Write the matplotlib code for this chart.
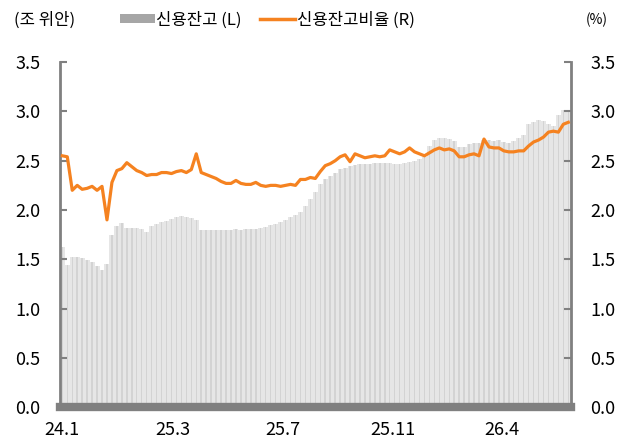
import numpy as np
import matplotlib
matplotlib.use('Agg')
import matplotlib.pyplot as plt
from matplotlib.patches import Patch
from matplotlib.lines import Line2D

plt.rcParams['font.family'] = ['Noto Sans CJK KR', 'DejaVu Sans']

# credit balance (trillion yuan), left axis
balance = [1.62, 1.44, 1.52, 1.52, 1.51, 1.49, 1.47, 1.43, 1.39, 1.45,
           1.75, 1.84, 1.87, 1.82, 1.82, 1.82, 1.81, 1.78, 1.84, 1.86,
           1.88, 1.89, 1.91, 1.93, 1.94, 1.93, 1.92, 1.90, 1.80, 1.80,
           1.80, 1.80, 1.80, 1.80, 1.80, 1.81, 1.80, 1.81, 1.81, 1.81,
           1.82, 1.83, 1.85, 1.86, 1.88, 1.90, 1.93, 1.95, 1.98, 2.04,
           2.11, 2.18, 2.26, 2.31, 2.35, 2.38, 2.42, 2.43, 2.45, 2.46,
           2.47, 2.47, 2.47, 2.48, 2.48, 2.48, 2.48, 2.47, 2.47, 2.48,
           2.49, 2.50, 2.52, 2.54, 2.65, 2.71, 2.73, 2.73, 2.72, 2.70,
           2.64, 2.64, 2.67, 2.68, 2.68, 2.71, 2.71, 2.70, 2.71, 2.69,
           2.68, 2.70, 2.73, 2.76, 2.87, 2.89, 2.91, 2.90, 2.87, 2.85,
           2.96, 3.01, 3.01]

# credit balance ratio (%), right axis
ratio = [2.55, 2.54, 2.20, 2.25, 2.21, 2.22, 2.24, 2.20, 2.24, 1.90,
         2.28, 2.40, 2.42, 2.48, 2.44, 2.40, 2.38, 2.35, 2.36, 2.36,
         2.38, 2.38, 2.37, 2.39, 2.40, 2.38, 2.41, 2.57, 2.38, 2.36,
         2.34, 2.32, 2.29, 2.27, 2.27, 2.30, 2.27, 2.26, 2.26, 2.28,
         2.25, 2.24, 2.25, 2.25, 2.24, 2.25, 2.26, 2.25, 2.31, 2.31,
         2.33, 2.32, 2.39, 2.45, 2.47, 2.50, 2.54, 2.56, 2.49, 2.57,
         2.55, 2.53, 2.54, 2.55, 2.54, 2.55, 2.61, 2.59, 2.57, 2.59,
         2.63, 2.59, 2.57, 2.55, 2.58, 2.61, 2.63, 2.61, 2.62, 2.60,
         2.54, 2.54, 2.56, 2.57, 2.55, 2.72, 2.64, 2.63, 2.63, 2.60,
         2.59, 2.59, 2.60, 2.60, 2.65, 2.69, 2.71, 2.74, 2.79, 2.80,
         2.79, 2.87, 2.89]

xtick_labels = ['24.1', '25.3', '25.7', '25.11', '26.4']
xtick_pos = [0, 22.2, 44.4, 66.6, 88.6]
yticks = [0, 0.5, 1.0, 1.5, 2.0, 2.5, 3.0, 3.5]

x = np.arange(len(balance))

fig = plt.figure(figsize=(6.3, 4.44), dpi=100)
ax = fig.add_axes([0.095, 0.083, 0.811, 0.777])
ax2 = ax.twinx()

# light base bars plus thin darker stripes, like the dense daily bars
ax.bar(x, balance, width=1.0, color='#e6e6e6', linewidth=0, zorder=1)
ax.bar(x, balance, width=0.3, color='#d3d3d3', linewidth=0, zorder=1)
ax2.plot(x, ratio, color='#f58220', linewidth=2.3, zorder=3)

for a in (ax, ax2):
    a.set_ylim(0, 3.5)
    a.set_yticks(yticks)
    a.set_yticklabels([f'{v:.1f}' for v in yticks])
    a.set_xlim(-0.5, len(balance) - 0.5)
    a.spines['top'].set_visible(False)
    a.tick_params(axis='y', direction='in', length=5, width=1.5, color='#808080',
                  labelsize=13, pad=14)

ax.spines['left'].set_color('#808080')
ax.spines['left'].set_linewidth(2)
ax.spines['right'].set_visible(False)
ax2.spines['left'].set_visible(False)
ax2.spines['right'].set_color('#808080')
ax2.spines['right'].set_linewidth(2)
ax2.spines['bottom'].set_color('#808080')
ax2.spines['bottom'].set_linewidth(6)
ax.spines['bottom'].set_visible(False)

ax.set_xticks(xtick_pos)
ax.set_xticklabels(xtick_labels)
ax.tick_params(axis='x', length=0, labelsize=13, pad=10)
ax2.tick_params(axis='x', length=0)

fig.text(0.022, 0.955, '(조 위안)', fontsize=12, va='center', ha='left')
fig.text(0.965, 0.955, '(%)', fontsize=10, va='center', ha='right')

handles = [Patch(facecolor='#a6a6a6', edgecolor='none'),
           Line2D([0], [0], color='#f58220', linewidth=2.5)]
fig.legend(handles, ['신용잔고 (L)', '신용잔고비율 (R)'], loc='center',
           bbox_to_anchor=(0.424, 0.955), ncol=2, frameon=False, fontsize=12,
           handlelength=2.1, handleheight=0.5, handletextpad=0.1, columnspacing=1.1)

fig.savefig('out.png', dpi=100)
